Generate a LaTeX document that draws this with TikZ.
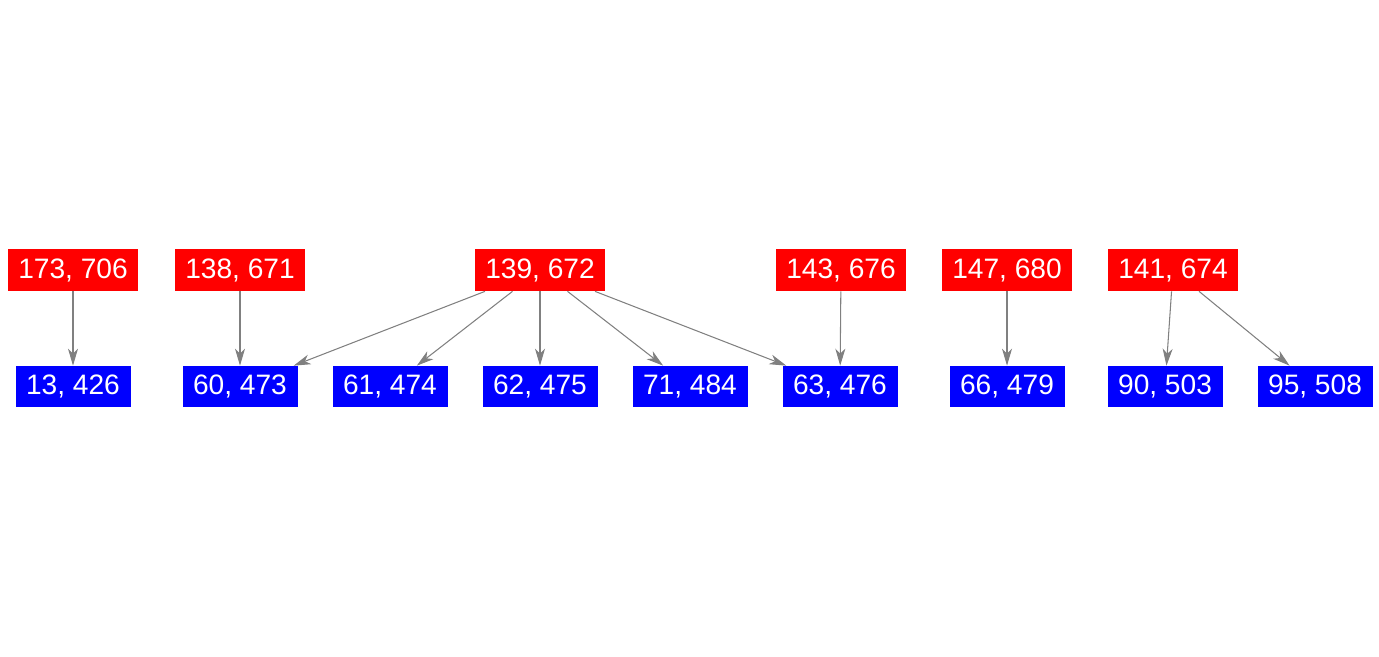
\documentclass[tikz,border=0pt]{standalone}
\usepackage{fontspec}
\setmainfont{Liberation Sans}
\usepackage{xcolor}
\usepackage{tikz}
\usetikzlibrary{arrows.meta, positioning}
\tikzset{
  srcbox/.style={
    rectangle, fill=red, text=white, inner sep=0pt,
    minimum height=0.84cm, minimum width=2.6cm,
    font=\fontsize{16}{19}\selectfont
  },
  dstbox/.style={
    rectangle, fill=blue, text=white, inner sep=0pt,
    minimum height=0.82cm, minimum width=2.3cm,
    font=\fontsize{16}{19}\selectfont
  },
  linkarrow/.style={-{Stealth[length=3.4mm, width=2mm, inset=1mm]}, line width=0.6pt, color=gray},
}

\begin{document}
\begin{tikzpicture}
  \useasboundingbox (0,0) rectangle (27.58,13.12);

  \node[srcbox] (r173) at (1.46,7.72) {173, 706};
  \node[srcbox] (r138) at (4.80,7.72) {138, 671};
  \node[srcbox] (r139) at (10.80,7.72) {139, 672};
  \node[srcbox] (r143) at (16.82,7.72) {143, 676};
  \node[srcbox] (r147) at (20.14,7.72) {147, 680};
  \node[srcbox] (r141) at (23.46,7.72) {141, 674};

  \node[dstbox] (b13) at (1.46,5.39) {13, 426};
  \node[dstbox] (b60) at (4.80,5.39) {60, 473};
  \node[dstbox] (b61) at (7.80,5.39) {61, 474};
  \node[dstbox] (b62) at (10.80,5.39) {62, 475};
  \node[dstbox] (b71) at (13.80,5.39) {71, 484};
  \node[dstbox] (b63) at (16.80,5.39) {63, 476};
  \node[dstbox] (b66) at (20.14,5.39) {66, 479};
  \node[dstbox] (b90) at (23.30,5.39) {90, 503};
  \node[dstbox] (b95) at (26.30,5.39) {95, 508};

  \draw[linkarrow] (r173) -- (b13);
  \draw[linkarrow] (r138) -- (b60);
  \draw[linkarrow] (r139) -- (b60);
  \draw[linkarrow] (r139) -- (b61);
  \draw[linkarrow] (r139) -- (b62);
  \draw[linkarrow] (r139) -- (b71);
  \draw[linkarrow] (r139) -- (b63);
  \draw[linkarrow] (r143) -- (b63);
  \draw[linkarrow] (r147) -- (b66);
  \draw[linkarrow] (r141) -- (b90);
  \draw[linkarrow] (r141) -- (b95);
\end{tikzpicture}
\end{document}
